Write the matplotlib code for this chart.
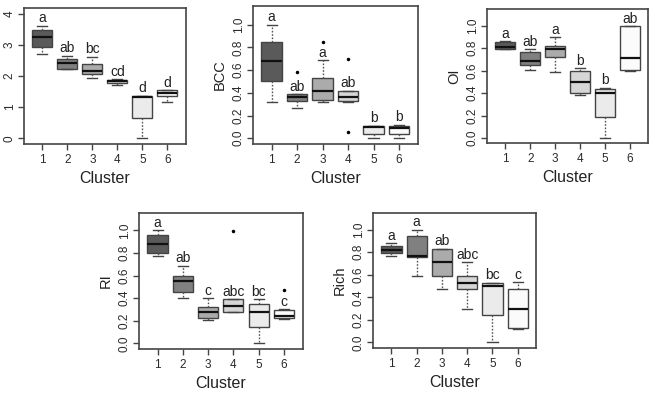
import matplotlib
matplotlib.use("Agg")
import matplotlib.pyplot as plt

plt.rcParams['font.family'] = ['Liberation Sans', 'DejaVu Sans']

clusters = [1, 2, 3, 4, 5, 6]
box_colors = ['#5a5a5a', '#808080', '#ababab', '#d6d6d6', '#ebebeb', '#fbfbfb']

# panel 1 (no y label)
p1_lo = [2.71, 2.22, 1.95, 1.70, 0.00, 1.17]
p1_q1 = [2.94, 2.23, 2.05, 1.77, 0.64, 1.35]
p1_med = [3.24, 2.41, 2.16, 1.83, 1.33, 1.45]
p1_q3 = [3.48, 2.56, 2.38, 1.87, 1.37, 1.55]
p1_hi = [3.62, 2.65, 2.62, 1.90, 1.37, 1.55]
p1_out = [[], [], [], [], [], []]
p1_letters = ['a', 'ab', 'bc', 'cd', 'd', 'd']

# BCC
bcc_lo = [0.32, 0.265, 0.32, 0.32, 0.00, 0.00]
bcc_q1 = [0.505, 0.325, 0.34, 0.325, 0.035, 0.035]
bcc_med = [0.685, 0.365, 0.42, 0.365, 0.095, 0.09]
bcc_q3 = [0.845, 0.39, 0.53, 0.42, 0.11, 0.11]
bcc_hi = [1.00, 0.39, 0.69, 0.42, 0.11, 0.12]
bcc_out = [[], [0.585], [0.85], [0.70, 0.055], [], []]
bcc_letters = ['a', 'ab', 'a', 'ab', 'b', 'b']

# OI
oi_lo = [0.79, 0.61, 0.59, 0.38, 0.00, 0.60]
oi_q1 = [0.79, 0.65, 0.72, 0.40, 0.185, 0.605]
oi_med = [0.813, 0.686, 0.79, 0.50, 0.405, 0.71]
oi_q3 = [0.857, 0.77, 0.82, 0.60, 0.44, 1.00]
oi_hi = [0.863, 0.79, 0.90, 0.625, 0.45, 1.00]
oi_out = [[], [], [], [], [], []]
oi_letters = ['a', 'ab', 'a', 'b', 'b', 'ab']

# RI
ri_lo = [0.77, 0.405, 0.207, 0.28, 0.00, 0.217]
ri_q1 = [0.80, 0.45, 0.227, 0.28, 0.142, 0.227]
ri_med = [0.88, 0.555, 0.28, 0.33, 0.28, 0.245]
ri_q3 = [0.955, 0.60, 0.325, 0.39, 0.346, 0.296]
ri_hi = [1.00, 0.686, 0.40, 0.39, 0.39, 0.30]
ri_out = [[], [], [], [0.99], [], [0.473]]
ri_letters = ['a', 'ab', 'c', 'abc', 'bc', 'c']

# Rich
rich_lo = [0.765, 0.588, 0.47, 0.30, 0.00, 0.12]
rich_q1 = [0.795, 0.76, 0.588, 0.47, 0.24, 0.124]
rich_med = [0.823, 0.77, 0.71, 0.53, 0.50, 0.30]
rich_q3 = [0.853, 0.947, 0.83, 0.588, 0.53, 0.476]
rich_hi = [0.88, 1.00, 0.83, 0.71, 0.53, 0.535]
rich_out = [[], [], [], [], [], []]
rich_letters = ['a', 'a', 'ab', 'abc', 'bc', 'c']

frame_col = '#444444'


def panel(rect, lo, q1, med, q3, hi, out, letters, ylabel, ylim, yticks, yticklabels):
    ax = fig.add_axes(rect)
    stats = []
    for i in range(len(clusters)):
        stats.append({'whislo': lo[i], 'q1': q1[i], 'med': med[i], 'q3': q3[i],
                      'whishi': hi[i], 'fliers': out[i]})
    bp = ax.bxp(stats, positions=clusters, widths=0.8, patch_artist=True,
                boxprops=dict(edgecolor=frame_col, linewidth=1.0),
                medianprops=dict(color='#111111', linewidth=1.6),
                whiskerprops=dict(color='#555555', linewidth=1.0, linestyle=(0, (1.2, 1.2))),
                capprops=dict(color=frame_col, linewidth=1.0),
                flierprops=dict(marker='o', markersize=1.5, markerfacecolor='black',
                                markeredgecolor='black'))
    for patch, c in zip(bp['boxes'], box_colors):
        patch.set_facecolor(c)
    rng = ylim[1] - ylim[0]
    for i, l in enumerate(letters):
        ax.text(clusters[i], hi[i] + 0.025 * rng, l, ha='center', va='baseline',
                fontsize=10, color='#222222')
    ax.set_xlim(0.26, 6.74)
    ax.set_ylim(*ylim)
    ax.set_xticks(clusters)
    ax.set_xticklabels([str(c) for c in clusters])
    ax.set_yticks(yticks)
    ax.set_yticklabels(yticklabels, rotation=90, va='center')
    ax.tick_params(length=4.3, width=1.0, color=frame_col, labelsize=8.5, labelcolor='#2a2a2a')
    ax.tick_params(axis='x', pad=3.2)
    ax.tick_params(axis='y', pad=1.5)
    for s in ax.spines.values():
        s.set_color(frame_col)
        s.set_linewidth(1.2)
    ax.set_xlabel('Cluster', fontsize=11.5, color='#222222')
    ax.xaxis.set_label_coords(0.5, -0.2)
    if ylabel:
        ax.set_ylabel(ylabel, fontsize=10.5, color='#222222')
        ax.yaxis.set_label_coords(-0.16, 0.5)
    return ax


fig = plt.figure(figsize=(6.55, 3.93), dpi=100)

prop_ticks = [0.0, 0.2, 0.4, 0.6, 0.8, 1.0]
prop_labels = ['0.0', '0.2', '0.4', '0.6', '0.8', '1.0']

panel([0.0366, 0.634, 0.247, 0.346], p1_lo, p1_q1, p1_med, p1_q3, p1_hi, p1_out, p1_letters,
      None, (-0.18, 4.19), [0, 1, 2, 3, 4], ['0', '1', '2', '3', '4'])
panel([0.386, 0.634, 0.252, 0.351], bcc_lo, bcc_q1, bcc_med, bcc_q3, bcc_hi, bcc_out, bcc_letters,
      'BCC', (-0.05, 1.167), prop_ticks, prop_labels)
panel([0.7435, 0.636, 0.246, 0.341], oi_lo, oi_q1, oi_med, oi_q3, oi_hi, oi_out, oi_letters,
      'OI', (-0.045, 1.15), prop_ticks, prop_labels)
panel([0.212, 0.112, 0.250, 0.346], ri_lo, ri_q1, ri_med, ri_q3, ri_hi, ri_out, ri_letters,
      'RI', (-0.05, 1.153), prop_ticks, prop_labels)
panel([0.569, 0.1145, 0.250, 0.344], rich_lo, rich_q1, rich_med, rich_q3, rich_hi, rich_out, rich_letters,
      'Rich', (-0.05, 1.15), prop_ticks, prop_labels)

fig.savefig('out.png', dpi=100)
